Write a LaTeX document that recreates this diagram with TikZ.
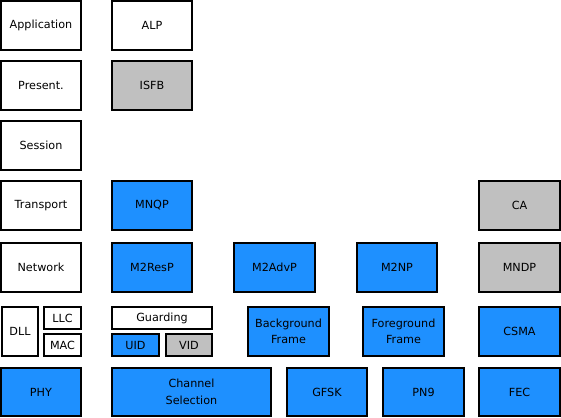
\documentclass[tikz,border=0pt]{standalone}
\usepackage{fontspec}
\setmainfont{DejaVu Sans}
\definecolor{stackblue}{HTML}{1E90FF}
\definecolor{stackgray}{HTML}{C0C0C0}

\begin{document}
\begin{tikzpicture}[x=1pt, y=-1pt,
    layer/.style={draw, line width=2pt, fill=white, inner sep=0pt, align=center,
        font=\fontsize{11.2}{16.5}\selectfont},
    impl/.style={layer, fill=stackblue},
    opt/.style={layer, fill=stackgray}]
    \useasboundingbox (0,0) rectangle (561,417);
    % OSI layers
    \node [layer, minimum width=80, minimum height=49] (app) at (41,25.5) {Application};
    \node [layer, minimum width=80, minimum height=49] (pres) at (41,85.5) {Present.};
    \node [layer, minimum width=80, minimum height=49] (sess) at (41,145.5) {Session};
    \node [layer, minimum width=80, minimum height=49] (trans) at (41,205.5) {Transport};
    \node [layer, minimum width=80, minimum height=49] (net) at (41,267.5) {Network};
    \node [layer, minimum width=36, minimum height=49] (dll) at (20,331.5) {DLL};
    \node [layer, minimum width=37, minimum height=22] (llc) at (62.5,318) {LLC};
    \node [layer, minimum width=37, minimum height=22] (mac) at (62.5,345) {MAC};
    \node [impl, minimum width=80, minimum height=48] (phy) at (41,392) {PHY};
    % protocols
    \node [layer, minimum width=80, minimum height=49] (alp) at (152,25.5) {ALP};
    \node [opt, minimum width=80, minimum height=49] (isfb) at (152,85.5) {ISFB};
    \node [impl, minimum width=80, minimum height=49] (mnqp) at (152,205.5) {MNQP};
    \node [opt, minimum width=81, minimum height=49] (ca) at (519.5,205.5) {CA};
    \node [impl, minimum width=80, minimum height=49] (mresp) at (152,267.5) {M2ResP};
    \node [impl, minimum width=81, minimum height=49] (madvp) at (274.5,267.5) {M2AdvP};
    \node [impl, minimum width=80, minimum height=49] (mnp) at (397,267.5) {M2NP};
    \node [opt, minimum width=81, minimum height=49] (mndp) at (519.5,267.5) {MNDP};
    \node [layer, minimum width=100, minimum height=22] (guard) at (162,318) {Guarding};
    \node [impl, minimum width=47, minimum height=22] (uid) at (135.5,345) {UID};
    \node [opt, minimum width=46, minimum height=22] (vid) at (189,345) {VID};
    \node [impl, minimum width=81, minimum height=49] (bgf) at (288.5,331.5) {Background\\Frame};
    \node [impl, minimum width=81, minimum height=49] (fgf) at (403.5,331.5) {Foreground\\Frame};
    \node [impl, minimum width=81, minimum height=49] (csma) at (519.5,331.5) {CSMA};
    \node [impl, minimum width=159, minimum height=48] (chan) at (191.5,392) {Channel\\Selection};
    \node [impl, minimum width=80, minimum height=48] (gfsk) at (327,392) {GFSK};
    \node [impl, minimum width=81, minimum height=48] (pn) at (423.5,392) {PN9};
    \node [impl, minimum width=81, minimum height=48] (fec) at (519.5,392) {FEC};
\end{tikzpicture}
\end{document}
